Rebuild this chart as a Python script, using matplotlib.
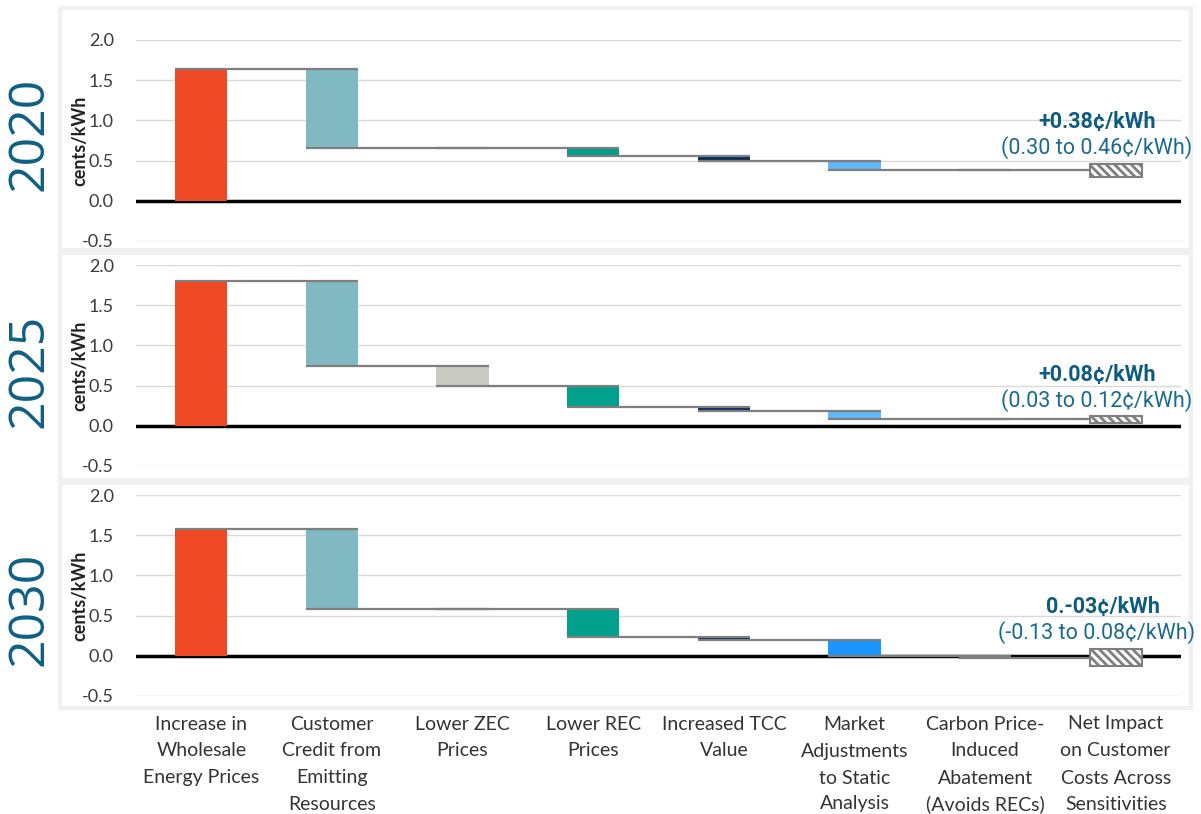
import numpy as np
import matplotlib
matplotlib.use('Agg')
import matplotlib.pyplot as plt
import matplotlib.transforms as mtrans
from matplotlib.patches import Rectangle

# data
categories = [
    ['Increase in', 'Wholesale', 'Energy Prices'],
    ['Customer', 'Credit from', 'Emitting', 'Resources'],
    ['Lower ZEC', 'Prices'],
    ['Lower REC', 'Prices'],
    ['Increased TCC', 'Value'],
    ['Market', 'Adjustments', 'to Static', 'Analysis'],
    ['Carbon Price-', 'Induced', 'Abatement', '(Avoids RECs)'],
    ['Net Impact', 'on Customer', 'Costs Across', 'Sensitivities'],
]
years = ['2020', '2025', '2030']
steps_2020 = [1.64, -0.98, 0.00, -0.10, -0.06, -0.12, -0.003]
steps_2025 = [1.80, -1.06, -0.25, -0.25, -0.06, -0.09, -0.01]
steps_2030 = [1.58, -1.00, 0.00, -0.35, -0.03, -0.20, -0.03]
ranges = [(0.30, 0.46), (0.03, 0.12), (-0.13, 0.08)]
net_labels = ['+0.38¢/kWh', '+0.08¢/kWh', '0.-03¢/kWh']
range_labels = ['(0.30 to 0.46¢/kWh)', '(0.03 to 0.12¢/kWh)', '(-0.13 to 0.08¢/kWh)']
yticks = [-0.5, 0.0, 0.5, 1.0, 1.5, 2.0]

bar_colors = ['#EE4824', '#80B9C1', '#CBCCC1', '#00A08B', '#0B2D57', '#62B7F7', '#5B6670']
market_colors = ['#62B7F7', '#62B7F7', '#1C95FF']

W, H = 1201, 814
plt.rcParams['hatch.linewidth'] = 2.0
plt.rcParams['hatch.color'] = '#7F7F7F'

fig = plt.figure(figsize=(W / 100, H / 100), dpi=100)
fig.patch.set_facecolor('white')

# pixel layout of the three panels: (axes top, axes bottom, frame top, frame bottom, year y)
panels = [(40, 241, 8, 250, 134), (265, 466, 253, 480, 371), (495, 696, 483, 708, 609)]
all_steps = [steps_2020, steps_2025, steps_2030]
blue = '#0F5F86'

for k, (top, bot, ftop, fbot, ycen) in enumerate(panels):
    fig.add_artist(Rectangle((60 / W, 1 - fbot / H), (1191 - 60) / W, (fbot - ftop) / H,
                             transform=fig.transFigure, fc='white', ec='#F0F0F0',
                             lw=3, zorder=-1))
    ax = fig.add_axes([136 / W, 1 - bot / H, 1045 / W, (bot - top) / H])
    ax.patch.set_alpha(0)
    ax.set_xlim(-0.5, 7.5)
    ax.set_ylim(-0.5, 2.0)
    ax.set_yticks(yticks)
    ax.set_yticklabels(['%.1f' % v for v in yticks], family='Lato', fontsize=13,
                       color='#3A3A3A')
    ax.tick_params(axis='y', length=0, pad=16)
    ax.set_xticks([])
    for sp in ax.spines.values():
        sp.set_visible(False)
    ax.grid(axis='y', color='#D9D9D9', lw=1)
    ax.set_axisbelow(True)
    ax.axhline(0, color='black', lw=2.5, zorder=2)

    steps = all_steps[k]
    colors = list(bar_colors)
    colors[5] = market_colors[k]
    levels = np.concatenate([[0], np.cumsum(steps)])
    for i, s in enumerate(steps):
        ax.bar(i, s, bottom=levels[i], width=0.4, color=colors[i], zorder=3)
        ax.hlines(levels[i + 1], i - 0.2, i + 1.2, color='#7F7F7F', lw=1.6, zorder=4)
    lo, hi = ranges[k]
    ax.bar(7, hi - lo, bottom=lo, width=0.4, color='white', edgecolor='#7F7F7F',
           hatch='\\\\\\\\', lw=1.5, zorder=5)

    fig.text(80 / W, 1 - (top + bot) / 2 / H, 'cents/kWh', rotation=90, ha='center',
             va='center', family='Lato', fontweight='bold', fontsize=13, color='#222222')
    fig.text(30 / W, 1 - ycen / H, years[k], rotation=90, ha='center', va='center',
             family='Open Sans', fontsize=36, color=blue)

    # net impact annotation
    ny = [122, 375, 607][k]
    nx = [1097, 1097, 1103][k]
    fig.text(nx / W, 1 - ny / H, net_labels[k], ha='center', va='center',
             family='Roboto', fontweight='bold', fontsize=15.5, color='#0D5C80')
    fig.text(1097 / W, 1 - (ny + 26) / H, range_labels[k], ha='center', va='center',
             family='Roboto', fontsize=15.5, color='#1A6A8E')

# category labels below the last panel
trans = mtrans.blended_transform_factory(ax.transData, fig.transFigure)
line_y = [724, 751, 778, 804]
for i, lines in enumerate(categories):
    for j, txt in enumerate(lines):
        ax.text(i, 1 - line_y[j] / H, txt, transform=trans, ha='center', va='center',
                family='Lato', fontsize=14, color='#333333', clip_on=False)

fig.savefig('out.png', dpi=100)
